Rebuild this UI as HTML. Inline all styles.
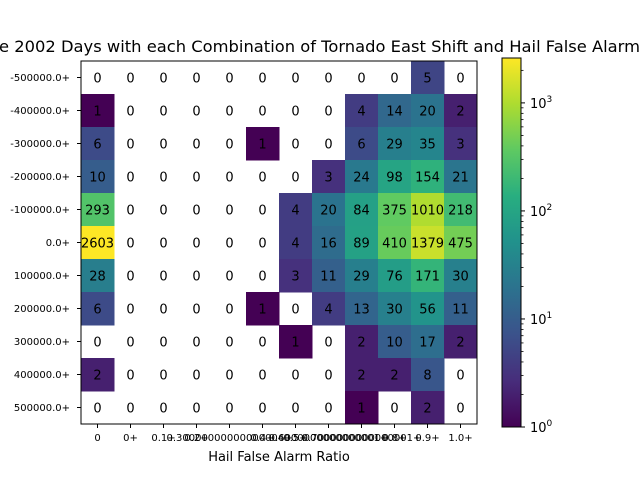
<!DOCTYPE html>
<html><head><meta charset="utf-8"><style>
html,body{margin:0;padding:0;background:#fff;}
svg{display:block;font-family:"DejaVu Sans","Liberation Sans",sans-serif;}
</style></head><body>
<svg id="chart" width="640" height="480" viewBox="0 0 640 480" xmlns="http://www.w3.org/2000/svg">
<defs>
<linearGradient id="vir" x1="0" y1="1" x2="0" y2="0">
<stop offset="0" stop-color="#440154"/><stop offset="0.125" stop-color="#472d7b"/><stop offset="0.25" stop-color="#3b528b"/><stop offset="0.375" stop-color="#2c728e"/><stop offset="0.5" stop-color="#21918c"/><stop offset="0.625" stop-color="#28ae80"/><stop offset="0.75" stop-color="#5ec962"/><stop offset="0.875" stop-color="#addc30"/><stop offset="1" stop-color="#fde725"/>
</linearGradient>
</defs>
<text x="-1" y="52" font-size="16" textLength="641" lengthAdjust="spacingAndGlyphs" fill="#000">e 2002 Days with each Combination of Tornado East Shift and Hail False Alarm</text>
<g id="cells"></g>
<g id="labels"></g>
<rect x="81" y="61" width="396" height="363" fill="none" stroke="#000" stroke-width="1"/>
<g id="axes"></g>
<text x="279" y="461" font-size="13" text-anchor="middle">Hail False Alarm Ratio</text>
<rect x="502" y="58" width="19" height="369" fill="url(#vir)" stroke="#000" stroke-width="1"/>
<g id="cbar"></g>
</svg>
<script>
const xCategories = ["0","0+","0.1+","0.2+","0.30000000000000004+","0.4+","0.5+","0.6000000000000001+","0.7000000000000001+","0.8+","0.9+","1.0+"];
const yCategories = ["-500000.0+","-400000.0+","-300000.0+","-200000.0+","-100000.0+","0.0+","100000.0+","200000.0+","300000.0+","400000.0+","500000.0+"];
const row0 = [0,0,0,0,0,0,0,0,0,0,5,0];
const row1 = [1,0,0,0,0,0,0,0,4,14,20,2];
const row2 = [6,0,0,0,0,1,0,0,6,29,35,3];
const row3 = [10,0,0,0,0,0,0,3,24,98,154,21];
const row4 = [293,0,0,0,0,0,4,20,84,375,1010,218];
const row5 = [2603,0,0,0,0,0,4,16,89,410,1379,475];
const row6 = [28,0,0,0,0,0,3,11,29,76,171,30];
const row7 = [6,0,0,0,0,1,0,4,13,30,56,11];
const row8 = [0,0,0,0,0,0,1,0,2,10,17,2];
const row9 = [2,0,0,0,0,0,0,0,2,2,8,0];
const row10 = [0,0,0,0,0,0,0,0,1,0,2,0];
const cbTicks = [0,1,2,3];
const rows = [row0,row1,row2,row3,row4,row5,row6,row7,row8,row9,row10];

const NS="http://www.w3.org/2000/svg";
const X0=81,Y0=61,CW=396/xCategories.length,CH=363/yCategories.length;
const maxV=Math.max(...rows.flat());
const xPos=i=>X0+i*CW, yPos=j=>Y0+j*CH;
const stops=["#440154","#472d7b","#3b528b","#2c728e","#21918c","#28ae80","#5ec962","#addc30","#fde725"];
function hex(h){return [1,3,5].map(k=>parseInt(h.substr(k,2),16));}
function vir(t){t=Math.max(0,Math.min(1,t));const s=t*(stops.length-1);const i=Math.min(Math.floor(s),stops.length-2);const f=s-i;const a=hex(stops[i]),b=hex(stops[i+1]);return "rgb("+a.map((v,k)=>Math.round(v+(b[k]-v)*f)).join(",")+")";}
function mk(tag,attrs,parent){const e=document.createElementNS(NS,tag);for(const k in attrs)e.setAttribute(k,attrs[k]);parent.appendChild(e);return e;}
const cells=document.getElementById('cells'),labels=document.getElementById('labels'),axes=document.getElementById('axes'),cbar=document.getElementById('cbar');
rows.forEach((r,j)=>r.forEach((v,i)=>{
  if(v>0){const c=mk('rect',{x:xPos(i),y:yPos(j),width:CW+0.5,height:CH+0.5,fill:vir(Math.log10(v)/Math.log10(maxV))},cells);
  
  }
  const t=mk('text',{x:xPos(i)+CW/2,y:yPos(j)+CH/2+5,'font-size':13,'text-anchor':'middle',fill:'#000'},labels);
  t.textContent=v;
  
  
}));
xCategories.forEach((c,i)=>{
  const x=xPos(i)+CW/2;
  mk('line',{x1:x,x2:x,y1:424,y2:428,stroke:'#000'},axes);
  const t=mk('text',{x:x,y:441,'font-size':10,'text-anchor':'middle'},axes);
  t.textContent=c;
  
  
});
yCategories.forEach((c,j)=>{
  const y=yPos(j)+CH/2;
  mk('line',{x1:77,x2:81,y1:y,y2:y,stroke:'#000'},axes);
  const t=mk('text',{x:70,y:y+3.5,'font-size':10,'text-anchor':'end'},axes);
  t.textContent=c;
  
  
});
const cbY=p=>427-369*p/Math.log10(maxV);
for(let d=0;d<4;d++){for(let m=2;m<=9;m++){const p=d+Math.log10(m);if(p<=Math.log10(maxV))mk('line',{x1:521,x2:523.5,y1:cbY(p),y2:cbY(p),stroke:'#000','stroke-width':0.8},cbar);}}
cbTicks.forEach(p=>{
  const y=cbY(p);
  mk('line',{x1:521,x2:525,y1:y,y2:y,stroke:'#000'},cbar);
  const t=mk('text',{x:530,y:y+5,'font-size':13},cbar);
  t.innerHTML='10<tspan dy="-6" font-size="9">'+p+'</tspan>';
  
  
});
</script>
</body></html>
